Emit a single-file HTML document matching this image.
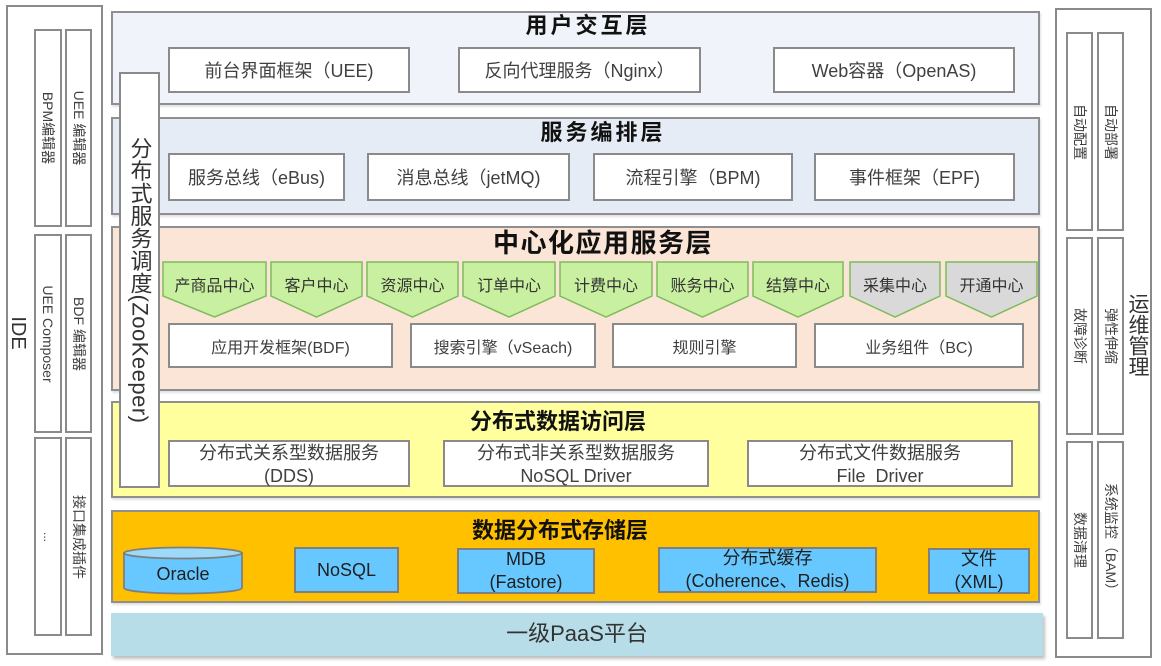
<!DOCTYPE html>
<html>
<head>
<meta charset="utf-8">
<style>
  html,body{margin:0;padding:0;background:#fff;}
  body{width:1161px;height:666px;position:relative;overflow:hidden;
       font-family:"Liberation Sans","Noto Sans CJK SC",sans-serif;color:#404040;}
  .a{position:absolute;box-sizing:border-box;}
  .bx{position:absolute;box-sizing:border-box;border:2px solid #8a8a8a;background:#fff;}
  .lay{position:absolute;box-sizing:border-box;border:2px solid #8f8f8f;box-shadow:1px 2px 2px rgba(0,0,0,0.12);}
  .b{position:absolute;box-sizing:border-box;border:2px solid #8a8a8a;background:#fff;
     display:flex;align-items:center;justify-content:center;text-align:center;
     font-size:18px;color:#404040;white-space:nowrap;}
  .t{position:absolute;text-align:center;font-weight:bold;color:#111;white-space:nowrap;}
  .rl{position:absolute;left:50%;top:50%;transform:translate(-50%,-50%) rotate(90deg);
      white-space:nowrap;font-size:14px;color:#404040;line-height:16px;}
  .st{position:absolute;box-sizing:border-box;border:2px solid #7f7f7f;background:#66c8ff;
      display:flex;align-items:center;justify-content:center;text-align:center;
      font-size:18px;color:#1f1f1f;line-height:23px;white-space:nowrap;}
</style>
</head>
<body>

<!-- Left IDE panel -->
<div class="bx" style="left:6px;top:5px;width:97px;height:650px;"></div>
<div class="a" style="left:8px;top:318px;width:20px;height:30px;">
  <div class="rl" style="font-size:20px;color:#333;line-height:22px;">IDE</div>
</div>
<div class="bx" style="left:34px;top:29px;width:28px;height:198px;"><div class="rl">BPM编辑器</div></div>
<div class="bx" style="left:65px;top:29px;width:27px;height:198px;"><div class="rl">UEE 编辑器</div></div>
<div class="bx" style="left:34px;top:234px;width:28px;height:199px;"><div class="rl">UEE Composer</div></div>
<div class="bx" style="left:65px;top:234px;width:27px;height:199px;"><div class="rl">BDF 编辑器</div></div>
<div class="bx" style="left:34px;top:437px;width:28px;height:199px;"><div class="rl" style="font-size:12px;">...</div></div>
<div class="bx" style="left:65px;top:437px;width:27px;height:199px;"><div class="rl">接口集成插件</div></div>

<!-- Right ops panel -->
<div class="bx" style="left:1055px;top:8px;width:97px;height:650px;"></div>
<div class="bx" style="left:1066px;top:32px;width:27px;height:199px;"><div class="rl">自动配置</div></div>
<div class="bx" style="left:1097px;top:32px;width:27px;height:199px;"><div class="rl">自动部署</div></div>
<div class="bx" style="left:1066px;top:237px;width:27px;height:198px;"><div class="rl">故障诊断</div></div>
<div class="bx" style="left:1097px;top:237px;width:27px;height:198px;"><div class="rl">弹性伸缩</div></div>
<div class="bx" style="left:1066px;top:441px;width:27px;height:198px;"><div class="rl">数据清理</div></div>
<div class="bx" style="left:1097px;top:441px;width:27px;height:198px;"><div class="rl">系统监控（BAM）</div></div>
<div class="a" style="left:1125px;top:290px;width:24px;height:90px;writing-mode:vertical-rl;font-size:21px;line-height:24px;color:#333;text-align:center;">运维管理</div>

<!-- Layers -->
<div class="lay" style="left:111px;top:11px;width:929px;height:94px;background:#f0f4fa;"></div>
<div class="lay" style="left:111px;top:117px;width:929px;height:98px;background:#e5ecf5;"></div>
<div class="lay" style="left:111px;top:226px;width:929px;height:165px;background:#fbe5d6;"></div>
<div class="lay" style="left:111px;top:401px;width:929px;height:97px;background:#ffff9d;"></div>
<div class="lay" style="left:111px;top:510px;width:929px;height:93px;background:#ffc000;"></div>
<div class="a" style="left:111px;top:613px;width:932px;height:43px;background:#b7dde8;box-shadow:2px 3px 3px rgba(0,0,0,0.25);"></div>

<!-- Titles -->
<div class="t" style="left:388px;top:12px;width:400px;font-size:22px;line-height:28px;letter-spacing:3px;">用户交互层</div>
<div class="t" style="left:403px;top:119px;width:400px;font-size:22px;line-height:28px;letter-spacing:3px;">服务编排层</div>
<div class="t" style="left:403px;top:227px;width:400px;font-size:26px;line-height:32px;letter-spacing:1.5px;">中心化应用服务层</div>
<div class="t" style="left:358px;top:408px;width:400px;font-size:22px;line-height:28px;">分布式数据访问层</div>
<div class="t" style="left:360px;top:517px;width:400px;font-size:22px;line-height:28px;">数据分布式存储层</div>
<div class="a" style="left:377px;top:620px;width:400px;text-align:center;font-size:22px;line-height:28px;color:#333;">一级PaaS平台</div>

<!-- Layer 1 boxes -->
<div class="b" style="left:168px;top:47px;width:242px;height:46px;">前台界面框架（UEE)</div>
<div class="b" style="left:458px;top:47px;width:243px;height:46px;">反向代理服务（Nginx）</div>
<div class="b" style="left:773px;top:47px;width:242px;height:46px;">Web容器（OpenAS)</div>

<!-- Layer 2 boxes -->
<div class="b" style="left:168px;top:153px;width:177px;height:48px;">服务总线（eBus)</div>
<div class="b" style="left:367px;top:153px;width:203px;height:48px;">消息总线（jetMQ)</div>
<div class="b" style="left:593px;top:153px;width:200px;height:48px;">流程引擎（BPM)</div>
<div class="b" style="left:814px;top:153px;width:201px;height:48px;">事件框架（EPF)</div>

<!-- Layer 3 row 2 boxes -->
<div class="b" style="left:168px;top:323px;width:225px;height:45px;font-size:16px;">应用开发框架(BDF)</div>
<div class="b" style="left:410px;top:323px;width:186px;height:45px;font-size:16px;">搜索引擎（vSeach)</div>
<div class="b" style="left:612px;top:323px;width:185px;height:45px;font-size:16px;">规则引擎</div>
<div class="b" style="left:814px;top:323px;width:210px;height:45px;font-size:16px;">业务组件（BC)</div>

<!-- Layer 4 boxes -->
<div class="b" style="left:168px;top:440px;width:242px;height:47px;line-height:23px;padding-top:2px;">分布式关系型数据服务<br>(DDS)</div>
<div class="b" style="left:443px;top:440px;width:266px;height:47px;line-height:23px;padding-top:2px;">分布式非关系型数据服务<br>NoSQL Driver</div>
<div class="b" style="left:747px;top:440px;width:266px;height:47px;line-height:23px;padding-top:2px;">分布式文件数据服务<br>File&nbsp;&nbsp;Driver</div>

<!-- Storage -->
<div class="st" style="left:294px;top:547px;width:105px;height:46px;">NoSQL</div>
<div class="st" style="left:457px;top:548px;width:138px;height:46px;">MDB<br>(Fastore)</div>
<div class="st" style="left:658px;top:547px;width:219px;height:46px;">分布式缓存<br>(Coherence、Redis)</div>
<div class="st" style="left:928px;top:548px;width:102px;height:46px;">文件<br>(XML)</div>

<!-- ZooKeeper vertical box -->
<div class="bx" style="left:119px;top:72px;width:41px;height:416px;display:flex;align-items:center;justify-content:center;">
  <div style="writing-mode:vertical-rl;font-size:22px;letter-spacing:0.5px;line-height:26px;color:#333;white-space:nowrap;">分布式服务调度(ZooKeeper)</div>
</div>

<!-- SVG: pentagons + cylinder -->
<svg class="a" style="left:0;top:0;" width="1161" height="666" viewBox="0 0 1161 666" xmlns="http://www.w3.org/2000/svg">
  <g stroke="#7dbb5b" stroke-width="1.5">
    <polygon points="163,262 266,262 266,296 214.5,317 163,296" fill="#c9f0a0"/>
    <polygon points="271,262 362,262 362,296 316.5,317 271,296" fill="#c9f0a0"/>
    <polygon points="367,262 458,262 458,296 412.5,317 367,296" fill="#c9f0a0"/>
    <polygon points="463,262 555,262 555,296 509,317 463,296" fill="#c9f0a0"/>
    <polygon points="560,262 652,262 652,296 606,317 560,296" fill="#c9f0a0"/>
    <polygon points="657,262 748,262 748,296 702.5,317 657,296" fill="#c9f0a0"/>
    <polygon points="753,262 843,262 843,296 798,317 753,296" fill="#c9f0a0"/>
    <polygon points="850,262 940,262 940,296 895,317 850,296" fill="#d9d9d9"/>
    <polygon points="946,262 1037,262 1037,296 991.5,317 946,296" fill="#d9d9d9"/>
  </g>
  <g fill="#333" stroke="none" font-family="Liberation Sans, Noto Sans CJK SC, sans-serif" font-size="16" text-anchor="middle">
    <text x="214.5" y="291">产商品中心</text>
    <text x="316.5" y="291">客户中心</text>
    <text x="412.5" y="291">资源中心</text>
    <text x="509" y="291">订单中心</text>
    <text x="606" y="291">计费中心</text>
    <text x="702.5" y="291">账务中心</text>
    <text x="798" y="291">结算中心</text>
    <text x="895" y="291">采集中心</text>
    <text x="991.5" y="291">开通中心</text>
  </g>
  <!-- Oracle cylinder -->
  <path d="M124,553 L124,588 A59,5.5 0 0 0 242,588 L242,553 Z" fill="#66c8ff" stroke="#7f7f7f" stroke-width="1.8"/>
  <ellipse cx="183" cy="553" rx="59" ry="5.5" fill="#9dd9f8" stroke="#7f7f7f" stroke-width="1.8"/>
  <text x="183" y="580" text-anchor="middle" font-family="Liberation Sans, Noto Sans CJK SC, sans-serif" font-size="18" fill="#1f1f1f">Oracle</text>
</svg>

</body>
</html>
